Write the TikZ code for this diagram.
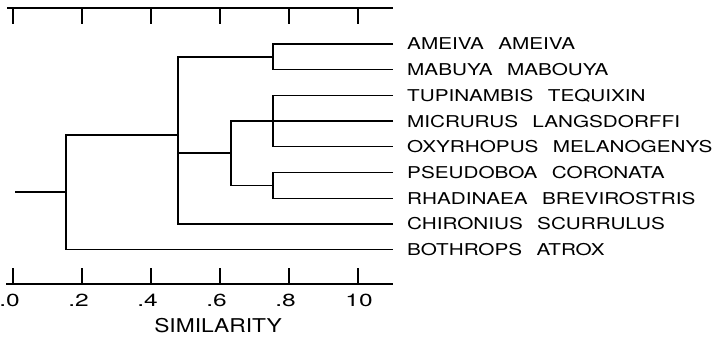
\documentclass[tikz,border=0pt]{standalone}
\usepackage{fontspec}
\setmainfont{TeX Gyre Heros}
\newfontfamily\labfont[FakeStretch=1.27,WordSpace=2.5]{TeX Gyre Heros}
\newfontfamily\numfont[FakeStretch=1.4]{TeX Gyre Heros}
\newfontfamily\axfont[FakeStretch=1.2]{TeX Gyre Heros}
\begin{document}
\begin{tikzpicture}[x=1pt,y=-1pt,
  br/.style={line width=1.4pt, line join=miter},
  ax/.style={line width=1.3pt},
  lab/.style={anchor=west, inner sep=0pt, font=\labfont\fontsize{16.3}{18}\selectfont},
  num/.style={inner sep=0pt, font=\numfont\fontsize{17.5}{19}\selectfont},
  ttl/.style={inner sep=0pt, font=\axfont\fontsize{19}{21}\selectfont}]
\fill[white] (0,0) rectangle (719,339);
\useasboundingbox (0,0) rectangle (719,339);
% leaves
\foreach \i/\yy in {1/44,2/69.7,3/95.4,4/121.1,5/146.8,6/172.5,7/198.2,8/223.9,9/249.6}
  \coordinate (e\i) at (393,\yy);
\node[lab] (t1) at (407,44) {AMEIVA AMEIVA};
\node[lab] (t2) at (407,69.7) {MABUYA MABOUYA};
\node[lab] (t3) at (407,95.4) {TUPINAMBIS TEQUIXIN};
\node[lab] (t4) at (407,121.1) {MICRURUS LANGSDORFFI};
\node[lab] (t5) at (407,146.8) {OXYRHOPUS MELANOGENYS};
\node[lab] (t6) at (407,172.5) {PSEUDOBOA CORONATA};
\node[lab] (t7) at (407,198.2) {RHADINAEA BREVIROSTRIS};
\node[lab] (t8) at (407,223.9) {CHIRONIUS SCURRULUS};
\node[lab] (t9) at (407,249.6) {BOTHROPS ATROX};
% junctions
\coordinate (j1) at (273,57);
\coordinate (j2) at (273,121.1);
\coordinate (j3) at (231,153);
\coordinate (j4) at (273,185.3);
\coordinate (j5) at (178,135);
\coordinate (j6) at (66,192);
\coordinate (root) at (15,192);
\draw[br] (e1) -| (j1) |- (e2);
\draw[br] (e3) -| (j2) |- (e5);
\draw[br] (e6) -| (j4) |- (e7);
\draw[br] (e4) -| (j3) |- (j4);
\draw[br] (j1) -| (j5) |- (e8);
\draw[br] (j3) -- (j3 -| j5);
\draw[br] (j5) -| (j6) |- (e9);
\draw[br] (root) -- (j6);
% axes
\coordinate (ta) at (7,8); \coordinate (tb) at (393,8);
\coordinate (ba) at (6,284); \coordinate (bb) at (393,284);
\draw[ax] (ta) -- (tb);
\draw[ax] (ba) -- (bb);
\foreach \v in {0,...,5}{
  \draw[ax] (13+69*\v,8) -- ++(0,16);
  \draw[ax] (13+69*\v,284) -- ++(0,-16);
}
\node[num] (n0) at (13,300) {\llap{.}0};
\node[num] (n2) at (82,300) {\llap{.}2};
\node[num] (n4) at (151,300) {\llap{.}4};
\node[num] (n6) at (220,300) {\llap{.}6};
\node[num] (n8) at (289,300) {\llap{.}8};
\node[num] (n10) at (359,300) {10};
\node[ttl] (sim) at (218,326) {SIMILARITY};
\end{tikzpicture}
\end{document}
